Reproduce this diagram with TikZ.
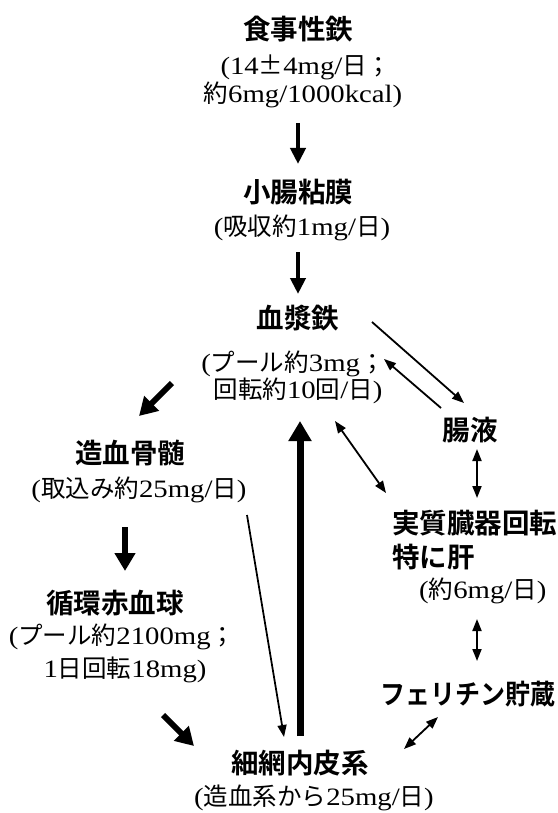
\documentclass[tikz,border=0pt]{standalone}
\usepackage{fontspec}
\setmainfont{Liberation Serif}[FakeStretch=1.15]
\newfontfamily\jpfont{Noto Sans CJK JP}
\newfontfamily\jpbf{Noto Sans CJK JP Bold}
\newfontfamily\jpbfn{Noto Sans CJK JP Bold}[FakeStretch=0.91]
\newcommand\JA[1]{{\jpfont\fontsize{24.5}{24.5}\selectfont #1}}
\usetikzlibrary{arrows.meta}
\begin{document}
\begin{tikzpicture}[x=1pt,y=-1pt,
  head/.style={font=\jpbf\fontsize{27.5}{27.5}\selectfont, inner sep=0pt},
  headn/.style={font=\jpbfn\fontsize{27.5}{27.5}\selectfont, inner sep=0pt},
  sub/.style={font=\fontsize{25}{25}\selectfont, inner sep=0pt},
  medarr/.style={line width=4pt, -{Triangle[length=16pt,width=15pt]}},
  thickarr/.style={line width=6pt, -{Triangle[length=18pt,width=20pt]}},
  bigarr/.style={line width=7pt, -{Triangle[length=20pt,width=22pt]}},
  thinarr/.style={line width=1.8pt, -{Triangle[length=12pt,width=9pt]}},
  dblarr/.style={line width=1.8pt, {Triangle[length=12pt,width=9pt]}-{Triangle[length=12pt,width=9pt]}}]
\useasboundingbox[fill=white] (0,0) rectangle (557,813);

% texts
\node[head] (diet) at (298,29) {食事性鉄};
\node[sub] (diet1) at (306,67) {(14\JA{±}4mg/\JA{日；}};
\node[sub] (diet2) at (303,95) {\JA{約}6mg/1000kcal)};

\node[head] (gut) at (298,192) {小腸粘膜};
\node[sub] (gut1) at (302,228) {(\JA{吸収約}1mg/\JA{日})};

\node[head] (plasma) at (298,318) {血漿鉄};
\node[sub] (plasma1) at (293,364) {(\JA{プール約}3mg\JA{；}};
\node[sub] (plasma2) at (298,391) {\JA{回転約}10\JA{回}/\JA{日})};

\node[head] (marrow) at (130,453) {造血骨髄};
\node[sub] (marrow1) at (139,490) {(\JA{取込み約}25mg/\JA{日})};

\node[head] (rbc) at (115,603) {循環赤血球};
\node[sub] (rbc1) at (122,637) {(\JA{プール約}2100mg\JA{；}};
\node[sub] (rbc2) at (125,670) {1\JA{日回転}18mg)};

\node[head] (res) at (300,763) {細網内皮系};
\node[sub] (res1) at (314,798) {(\JA{造血系から}25mg/\JA{日})};

\node[head] (juice) at (470,430) {腸液};

\node[head, anchor=west] (organ) at (392,523) {実質臓器回転};
\node[head, anchor=west] (liver) at (392,557) {特に肝};
\node[sub, anchor=west] (liver1) at (419,591) {(\JA{約}6mg/\JA{日})};

\node[headn, anchor=east] (ferritin) at (556,694) {フェリチン貯蔵};

% arrow end points
\coordinate (a1s) at (298,123); \coordinate (a1e) at (298,164);
\coordinate (a2s) at (298,252); \coordinate (a2e) at (298,294);
\coordinate (a3s) at (172,383); \coordinate (a3e) at (139,416);
\coordinate (a4s) at (125,527); \coordinate (a4e) at (125,571);
\coordinate (a5s) at (163,715); \coordinate (a5e) at (194,746);
\coordinate (a6s) at (247,515); \coordinate (a6e) at (284,737);
\coordinate (a7s) at (300,736); \coordinate (a7e) at (300,421);
\coordinate (a8s) at (372,322); \coordinate (a8e) at (464,403);
\coordinate (a9s) at (441,408); \coordinate (a9e) at (384,359);
\coordinate (b1s) at (335,421); \coordinate (b1e) at (386,493);
\coordinate (b2s) at (477,449); \coordinate (b2e) at (477,498);
\coordinate (b3s) at (477,619); \coordinate (b3e) at (477,661);
\coordinate (b4s) at (438,717); \coordinate (b4e) at (404,749);

\draw[medarr] (a1s) -- (a1e);
\draw[medarr] (a2s) -- (a2e);
\draw[thickarr] (a3s) -- (a3e);
\draw[thickarr] (a4s) -- (a4e);
\draw[thickarr] (a5s) -- (a5e);
\draw[thinarr] (a6s) -- (a6e);
\draw[bigarr] (a7s) -- (a7e);
\draw[thinarr] (a8s) -- (a8e);
\draw[thinarr] (a9s) -- (a9e);
\draw[dblarr] (b1s) -- (b1e);
\draw[dblarr] (b2s) -- (b2e);
\draw[dblarr] (b3s) -- (b3e);
\draw[dblarr] (b4s) -- (b4e);
\end{tikzpicture}
\end{document}
